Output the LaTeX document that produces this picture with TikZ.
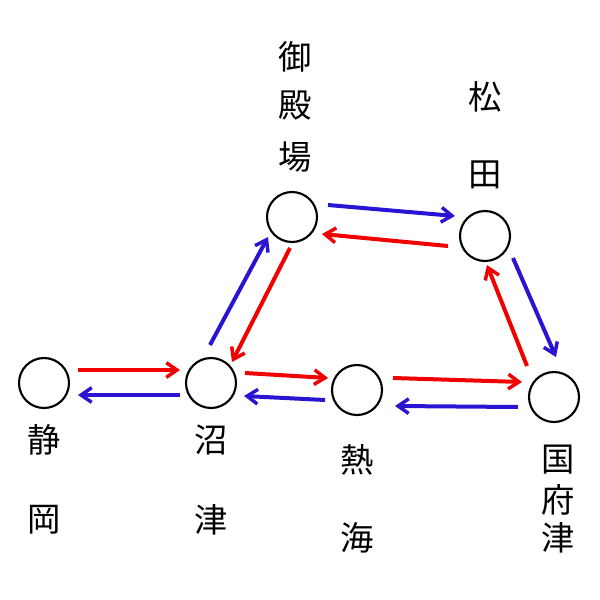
\documentclass[tikz,border=0pt]{standalone}
\usepackage{fontspec}
\newfontfamily\cjk{Noto Sans CJK JP}
\usetikzlibrary{arrows.meta}
\definecolor{bl}{RGB}{40,20,210}
\begin{document}
\begin{tikzpicture}[x=0.75pt,y=-0.75pt,
  st/.style={circle,draw,line width=1.6pt,minimum size=37.5pt,inner sep=0pt},
  lb/.style={font=\cjk\fontsize{25}{25}\selectfont,inner sep=0pt},
  ar/.style={line width=3pt,-{Straight Barb[length=8pt,width=11pt,line width=2.6pt]}},
  r/.style={ar,red!95!black},
  b/.style={ar,bl}]
\useasboundingbox (0,0) rectangle (600,600);
\node[st] (shz) at (44,383) {};
\node[st] (nmz) at (211,383) {};
\node[st] (atm) at (357,390) {};
\node[st] (kzu) at (554,397) {};
\node[st] (gtb) at (292,217) {};
\node[st] (mtd) at (485,236) {};
\node[lb] (l1) at (44,440) {静};
\node[lb] (l2) at (44,520) {岡};
\node[lb] (l3) at (211,440) {沼};
\node[lb] (l4) at (211,520) {津};
\node[lb] (l5) at (357,460) {熱};
\node[lb] (l6) at (357,538) {海};
\node[lb] (l7) at (558,460) {国};
\node[lb] (l8) at (558,500) {府};
\node[lb] (l9) at (558,538) {津};
\node[lb] (l10) at (295,57) {御};
\node[lb] (l11) at (295,106) {殿};
\node[lb] (l12) at (295,157) {場};
\node[lb] (l13) at (485,97) {松};
\node[lb] (l14) at (485,175) {田};
\draw[r] (78,370) -- (180,370);
\draw[b] (180,395) -- (78,395);
\draw[r] (245,373) -- (328,378);
\draw[b] (325,400) -- (244,396);
\draw[r] (393,378) -- (522,382);
\draw[b] (518,407) -- (395,406);
\draw[b] (210,345) -- (268,237);
\draw[r] (290,248) -- (232,362);
\draw[b] (328,205) -- (455,216);
\draw[r] (448,246) -- (322,234);
\draw[b] (513,258) -- (556,357);
\draw[r] (527,366) -- (487,265);
\end{tikzpicture}
\end{document}
